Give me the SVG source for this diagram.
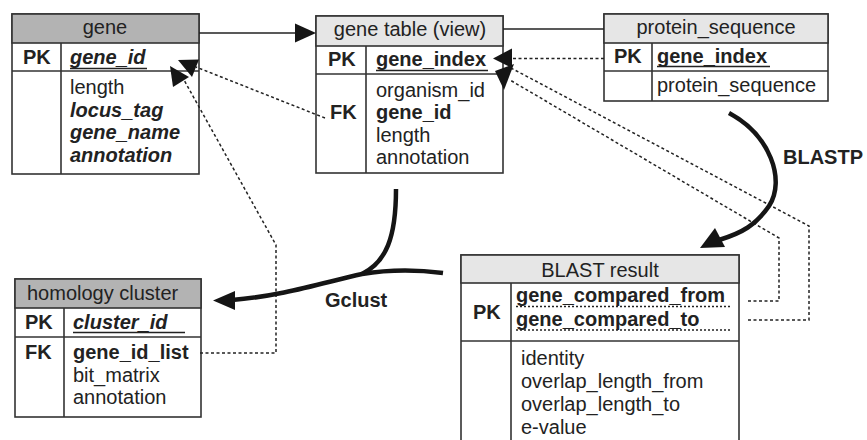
<svg xmlns="http://www.w3.org/2000/svg" width="867" height="440" viewBox="0 0 867 440">
<style>
text{font-family:"Liberation Sans",Arial,Helvetica,sans-serif;font-size:20px;fill:#222}
.b{font-weight:bold}
.bi{font-weight:bold;font-style:italic}
.m{text-anchor:middle}
.box{fill:#fff;stroke:#333;stroke-width:1.6}
.hd1{fill:#b3b3b3;stroke:#333;stroke-width:1.6}
.hd2{fill:#e6e6e6;stroke:#333;stroke-width:1.6}
.ln{stroke:#333;stroke-width:1.6;fill:none}
.ul{stroke:#222;stroke-width:1.5}
.ud{stroke:#222;stroke-width:1.3;stroke-dasharray:2 2}
.dot{fill:none;stroke:#222;stroke-width:1.5;stroke-dasharray:3 2.5}
.sol{fill:none;stroke:#222;stroke-width:1.6}
.thick{fill:none;stroke:#151515;stroke-width:4.5}
.ah{fill:#151515}
</style>

<g id="gene">
<rect class="box" x="12" y="14" width="187" height="160"/>
<rect class="hd1" x="12" y="14" width="187" height="29"/>
<line class="ln" x1="12" y1="71" x2="199" y2="71"/>
<line class="ln" x1="61" y1="43" x2="61" y2="174"/>
<text class="m" x="105" y="34">gene</text>
<text class="b" x="23" y="64">PK</text>
<text class="bi" x="70" y="64">gene_id</text>
<line class="ul" x1="70" y1="68.5" x2="147" y2="68.5"/>
<text x="70" y="94">length</text>
<text class="bi" x="70" y="116.5">locus_tag</text>
<text class="bi" x="70" y="139">gene_name</text>
<text class="bi" x="70" y="161.5">annotation</text>
</g>

<g id="gene_table_view">
<rect class="box" x="316" y="16" width="187" height="157"/>
<rect class="hd2" x="316" y="16" width="187" height="30"/>
<line class="ln" x1="316" y1="74" x2="503" y2="74"/>
<line class="ln" x1="366" y1="46" x2="366" y2="173"/>
<text class="m" x="410" y="36">gene table (view)</text>
<text class="b" x="328" y="66">PK</text>
<text class="b" x="376" y="66">gene_index</text>
<line class="ul" x1="376" y1="70.5" x2="488" y2="70.5"/>
<text x="376" y="96.5">organism_id</text>
<text class="b" x="330" y="119">FK</text>
<text class="b" x="376" y="119">gene_id</text>
<text x="376" y="141.5">length</text>
<text x="376" y="164">annotation</text>
</g>

<g id="protein_sequence">
<rect class="box" x="604" y="14" width="224" height="87"/>
<rect class="hd2" x="604" y="14" width="224" height="29"/>
<line class="ln" x1="604" y1="71" x2="828" y2="71"/>
<line class="ln" x1="652" y1="43" x2="652" y2="101"/>
<text class="m" x="716" y="34">protein_sequence</text>
<text class="b" x="614" y="63">PK</text>
<text class="b" x="657" y="63">gene_index</text>
<line class="ul" x1="657" y1="66.5" x2="770" y2="66.5"/>
<text x="657" y="92">protein_sequence</text>
</g>

<g id="homology_cluster">
<rect class="box" x="15" y="279" width="186" height="138"/>
<rect class="hd1" x="15" y="279" width="186" height="29"/>
<line class="ln" x1="15" y1="337" x2="201" y2="337"/>
<line class="ln" x1="64" y1="308" x2="64" y2="417"/>
<text x="27" y="300">homology cluster</text>
<text class="b" x="25" y="329">PK</text>
<text class="bi" x="73" y="329">cluster_id</text>
<line class="ul" x1="73" y1="332.5" x2="185" y2="332.5"/>
<text class="b" x="25" y="359">FK</text>
<text class="b" x="73" y="359">gene_id_list</text>
<text x="73" y="381.5">bit_matrix</text>
<text x="73" y="404">annotation</text>
</g>

<g id="blast_result">
<rect class="box" x="461" y="255" width="278" height="195"/>
<rect class="hd2" x="461" y="255" width="278" height="28"/>
<line class="ln" x1="461" y1="341" x2="739" y2="341"/>
<line class="ln" x1="511" y1="283" x2="511" y2="450"/>
<text class="m" x="600" y="277">BLAST result</text>
<text class="b" x="473" y="319">PK</text>
<text class="b" x="516" y="302">gene_compared_from</text>
<line class="ud" x1="516" y1="306.5" x2="732" y2="306.5"/>
<text class="b" x="516" y="326">gene_compared_to</text>
<line class="ud" x1="516" y1="330" x2="732" y2="330"/>
<text x="521" y="365">identity</text>
<text x="521" y="388">overlap_length_from</text>
<text x="521" y="411">overlap_length_to</text>
<text x="521" y="434">e-value</text>
</g>

<g id="connectors">
<line class="sol" x1="199" y1="33" x2="297" y2="33"/>
<polygon class="ah" points="316,33 295,23.5 295,42.5"/>
<line class="sol" x1="503" y1="29" x2="604" y2="29"/>

<line class="dot" x1="604" y1="58.5" x2="510" y2="58.5"/>
<polygon class="ah" points="493,58.5 512,48.5 512,68"/>
<polyline class="dot" points="748,320 809,320 809,226 511,68"/>
<polyline class="dot" points="748,301 779,301 779,238 510,80"/>
<polygon class="ah" points="495,71 514,64 504,90"/>

<line class="dot" x1="325" y1="118" x2="196" y2="67"/>
<polygon class="ah" points="178,60 199,59.5 192,77"/>
<polyline class="dot" points="200,353 276,353 276,245 184,80"/>
<polygon class="ah" points="170,66 173,87 189,77"/>

<path class="thick" d="M396,189 C396,238 386,262 362,274"/>
<path class="thick" d="M443,273 C412,269 386,270 362,274 C322,283 282,296 232,300"/>
<polygon class="ah" points="213,300.5 235,291 235,310"/>
<text class="b" x="325" y="307">Gclust</text>

<path class="thick" d="M729,113 C770,135 786,180 769,206 C756,225 742,233 719,240"/>
<polygon class="ah" points="700,248 715,228 725,247"/>
<text class="b" x="783" y="164">BLASTP</text>
</g>
</svg>
